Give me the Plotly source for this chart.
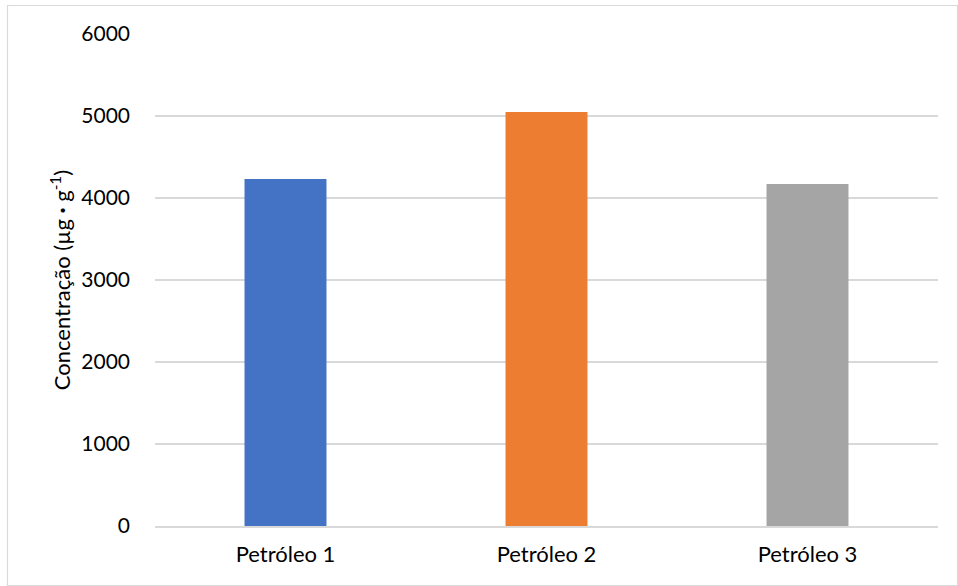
import plotly.graph_objects as go

categories = ["Petróleo 1", "Petróleo 2", "Petróleo 3"]
values = [4232, 5049, 4171]
colors = ["#4472C4", "#ED7D31", "#A5A5A5"]
y_ticks = [0, 1000, 2000, 3000, 4000, 5000, 6000]

W, H = 958, 586
L, R, T, B = 155, 20, 34, 60
pw, ph = W - L - R, H - T - B

def px_to_paper_x(px):
    return (px - L) / pw

def px_to_paper_y(py):
    return (H - B - py) / ph

fig = go.Figure(go.Bar(x=categories, y=values, marker_color=colors, marker_line_width=0))

font_family = "Lato, Open Sans, sans-serif"
fig.update_layout(
    width=W, height=H,
    margin=dict(l=L, r=R, t=T, b=B),
    plot_bgcolor="white", paper_bgcolor="white",
    bargap=0.686,
    showlegend=False,
    font=dict(family=font_family, size=21, color="#000000"),
    xaxis=dict(showline=True, linecolor="#D9D9D9", linewidth=1.5, ticks="",
               showgrid=False, tickfont=dict(size=22), ticklabelstandoff=8),
    yaxis=dict(range=[0, 6000], tickvals=y_ticks, showgrid=True, gridcolor="#D9D9D9",
               gridwidth=1.5, zeroline=False, showline=False, ticks="",
               tickfont=dict(size=21), ticklabelstandoff=24,
               title=dict(text="Concentração (µg <b>·</b> g<sup>-1</sup>)", font=dict(size=22), standoff=4)),
    shapes=[dict(type="rect", xref="paper", yref="paper",
                 x0=px_to_paper_x(7.5), x1=px_to_paper_x(957.5),
                 y0=px_to_paper_y(585.5), y1=px_to_paper_y(5.5),
                 line=dict(color="#D9D9D9", width=1.2), fillcolor="rgba(0,0,0,0)", layer="below")],
)

fig.write_html("out.html")
